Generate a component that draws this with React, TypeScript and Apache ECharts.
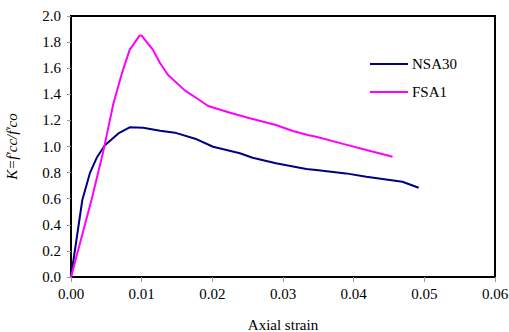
import React, { useEffect, useRef } from "react";
import * as echarts from "echarts";

const nsaStrain = [0, 0.0016, 0.0027, 0.0037, 0.0048, 0.0067, 0.0083, 0.0102, 0.0126, 0.0147, 0.0178, 0.0201, 0.0239, 0.0257, 0.029, 0.0333, 0.0347, 0.0389, 0.0418, 0.0469, 0.0492];
const nsaK = [0, 0.59, 0.8, 0.92, 1.01, 1.1, 1.147, 1.144, 1.12, 1.106, 1.055, 0.998, 0.948, 0.914, 0.871, 0.828, 0.82, 0.794, 0.769, 0.73, 0.684];

const fsaStrain = [0, 0.0029, 0.0046, 0.006, 0.0072, 0.0083, 0.0097, 0.01, 0.0116, 0.0126, 0.0137, 0.0161, 0.0178, 0.0194, 0.0224, 0.0253, 0.029, 0.0314, 0.0335, 0.0347, 0.0385, 0.0418, 0.0455];
const fsaK = [0, 0.59, 0.97, 1.33, 1.56, 1.74, 1.85, 1.85, 1.74, 1.64, 1.55, 1.43, 1.37, 1.31, 1.26, 1.216, 1.165, 1.119, 1.088, 1.075, 1.02, 0.973, 0.922];

const seriesNames = ["NSA30", "FSA1"];
const seriesColors = ["#000080", "#FF00FF"];

const FONT = "Liberation Serif";

export default function App() {
  const ref = useRef<HTMLDivElement>(null);
  useEffect(() => {
    if (!ref.current) return;
    const chart = echarts.init(ref.current, null, { renderer: "svg" });
    const zip = (xs: number[], ys: number[]) => xs.map((x, i) => [x, ys[i]]);
    chart.setOption({
      animation: false,
      textStyle: { fontFamily: FONT },
      grid: {
        left: 71,
        top: 16,
        right: 14,
        bottom: 55,
        containLabel: false,
        outerBoundsMode: "none",
        show: true,
        borderColor: "#000",
        borderWidth: 2,
        backgroundColor: "#fff",
      },
      legend: {
        orient: "vertical",
        left: 370,
        top: 56,
        padding: 0,
        itemWidth: 38,
        itemHeight: 2,
        itemGap: 12,
        icon: "rect",
        textStyle: { fontFamily: FONT, fontSize: 15, color: "#000", lineHeight: 16, padding: [0, 0, 0, -1] },
        data: seriesNames.map((n) => ({ name: n, icon: "rect" })),
      },
      xAxis: {
        type: "value",
        min: 0,
        max: 0.06,
        interval: 0.01,
        name: "Axial strain",
        nameLocation: "middle",
        nameGap: 40,
        nameTextStyle: { fontFamily: FONT, fontSize: 15, color: "#000" },
        axisLine: { onZero: false, lineStyle: { color: "#000", width: 2 } },
        axisTick: { show: true, length: 5, lineStyle: { color: "#999" } },
        axisLabel: {
          fontFamily: FONT,
          fontSize: 15,
          color: "#000",
          margin: 9,
          formatter: (v: number) => v.toFixed(2),
        },
        splitLine: { show: false },
      },
      yAxis: {
        type: "value",
        min: 0,
        max: 2,
        interval: 0.2,
        name: "K=f'cc/f'co",
        nameLocation: "middle",
        nameGap: 52,
        nameTextStyle: { fontFamily: FONT, fontSize: 15, fontStyle: "italic", color: "#000" },
        axisLine: { onZero: false, lineStyle: { color: "#000", width: 2 } },
        axisTick: { show: true, length: 4, lineStyle: { color: "#999" } },
        axisLabel: {
          fontFamily: FONT,
          fontSize: 15,
          color: "#000",
          margin: 10,
          formatter: (v: number) => v.toFixed(1),
        },
        splitLine: { show: false },
      },
      series: [
        {
          name: seriesNames[0],
          type: "line",
          data: zip(nsaStrain, nsaK),
          showSymbol: false,
          smooth: false,
          lineStyle: { color: seriesColors[0], width: 2 },
          itemStyle: { color: seriesColors[0] },
        },
        {
          name: seriesNames[1],
          type: "line",
          data: zip(fsaStrain, fsaK),
          showSymbol: false,
          smooth: false,
          lineStyle: { color: seriesColors[1], width: 2 },
          itemStyle: { color: seriesColors[1] },
        },
      ],
    });
    return () => chart.dispose();
  }, []);
  return <div ref={ref} style={{ width: 509, height: 332, position: "absolute", left: 0, top: 0 }} />;
}
